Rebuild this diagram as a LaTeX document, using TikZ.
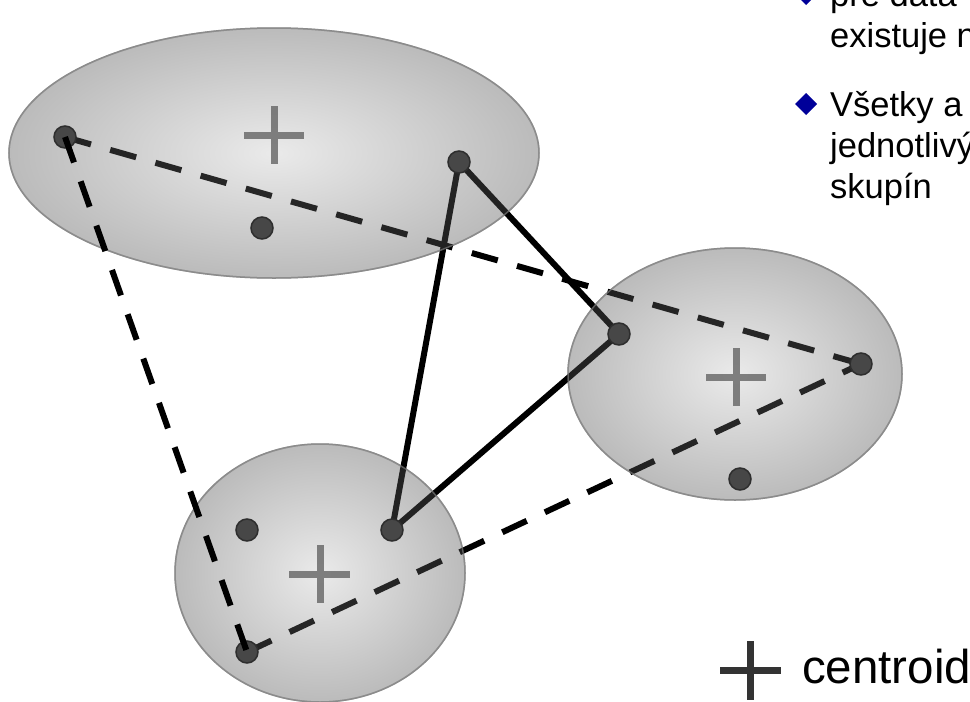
\documentclass[tikz,border=0pt]{standalone}
\usepackage{fontspec}
\setmainfont{Liberation Sans}
\definecolor{ellin}{HTML}{EAEAEA}
\definecolor{ellout}{HTML}{BBBBBB}
\definecolor{ellborder}{HTML}{8A8A8A}
\definecolor{dotfill}{HTML}{474747}
\definecolor{dotdraw}{HTML}{2E2E2E}
\definecolor{plusgray}{HTML}{676767}
\definecolor{legendgray}{HTML}{333333}
\definecolor{bulletblue}{HTML}{000099}
\begin{document}
\begin{tikzpicture}[x=1pt,y=-1pt,
  ellshade/.style={inner color=ellin, outer color=ellout, draw=ellborder, line width=1.5pt},
  ellveil/.style={inner color=ellin, outer color=ellout, draw=ellborder, line width=1.5pt, fill opacity=0.18, draw opacity=0.6},
  dot/.style={circle, fill=dotfill, draw=dotdraw, line width=1.5pt, minimum size=22pt, inner sep=0pt},
  dashline/.style={line width=6pt, dash pattern=on 27pt off 20pt},
  solidline/.style={line width=6pt},
  plusmark/.style={draw=plusgray, line width=7pt},
  txt/.style={inner sep=0pt, anchor=base west, font=\fontsize{34.5}{41}\selectfont},
  bullet/.style={fill=bulletblue},
]
\useasboundingbox (0,0) rectangle (970,702);

% ellipses (opaque)
\path[ellshade] (274,153) ellipse [x radius=265pt, y radius=125pt];
\path[ellshade] (735,374) ellipse [x radius=167pt, y radius=126pt];
\path[ellshade] (320,573) ellipse [x radius=145pt, y radius=129pt];

% centroids
\draw[plusmark] (244,135) -- (304,135) (274,106) -- (274,164);
\draw[plusmark] (706,377) -- (766,377) (736,348) -- (736,406);
\draw[plusmark] (289,574) -- (350,574) (320,545) -- (320,603);

% point positions
\coordinate (pA1) at (65,137);
\coordinate (pA2) at (459,162);
\coordinate (pA3) at (262,228);
\coordinate (pB1) at (619,334);
\coordinate (pB2) at (861,364);
\coordinate (pB3) at (740,479);
\coordinate (pC1) at (247,530);
\coordinate (pC2) at (392,530);
\coordinate (pC3) at (247,652);

% connectors under the veil
\draw[dashline] (pA1) -- (pB2);
\draw[dashline] (pC3) -- (pB2);
\draw[solidline] (pA2) -- (pB1);
\draw[solidline] (pA2) -- (pC2);
\draw[solidline] (pC2) -- (pB1);

% veil of the ellipses over the connectors
\path[ellveil] (274,153) ellipse [x radius=265pt, y radius=125pt];
\path[ellveil] (735,374) ellipse [x radius=167pt, y radius=126pt];
\path[ellveil] (320,573) ellipse [x radius=145pt, y radius=129pt];

% points
\node[dot] (A1) at (pA1) {};
\node[dot] (A2) at (pA2) {};
\node[dot] (A3) at (pA3) {};
\node[dot] (B1) at (pB1) {};
\node[dot] (B2) at (pB2) {};
\node[dot] (B3) at (pB3) {};
\node[dot] (C1) at (pC1) {};
\node[dot] (C2) at (pC2) {};
\node[dot] (C3) at (pC3) {};

% black dashed on top
\draw[dashline, black] (A1.center) -- (C3.center);

% bullet text
\fill[bullet] (795,-6) -- (806,-17) -- (817,-6) -- (806,5) -- cycle;
\fill[bullet] (795,104) -- (806,93) -- (817,104) -- (806,115) -- cycle;
\node[txt] (t1) at (830,6) {pre dáta};
\node[txt] (t2) at (830,47) {existuje n};
\node[txt] (t3) at (830,116) {Všetky a};
\node[txt] (t4) at (830,157) {jednotlivý};
\node[txt] (t5) at (830,198) {skupín};

% legend
\draw[draw=legendgray, line width=7pt] (720,670) -- (781,670) (750,641) -- (750,700);
\node[inner sep=0pt, anchor=base west, font=\fontsize{47.5}{50}\selectfont] (leg) at (802,683) {centroid};
\end{tikzpicture}
\end{document}
